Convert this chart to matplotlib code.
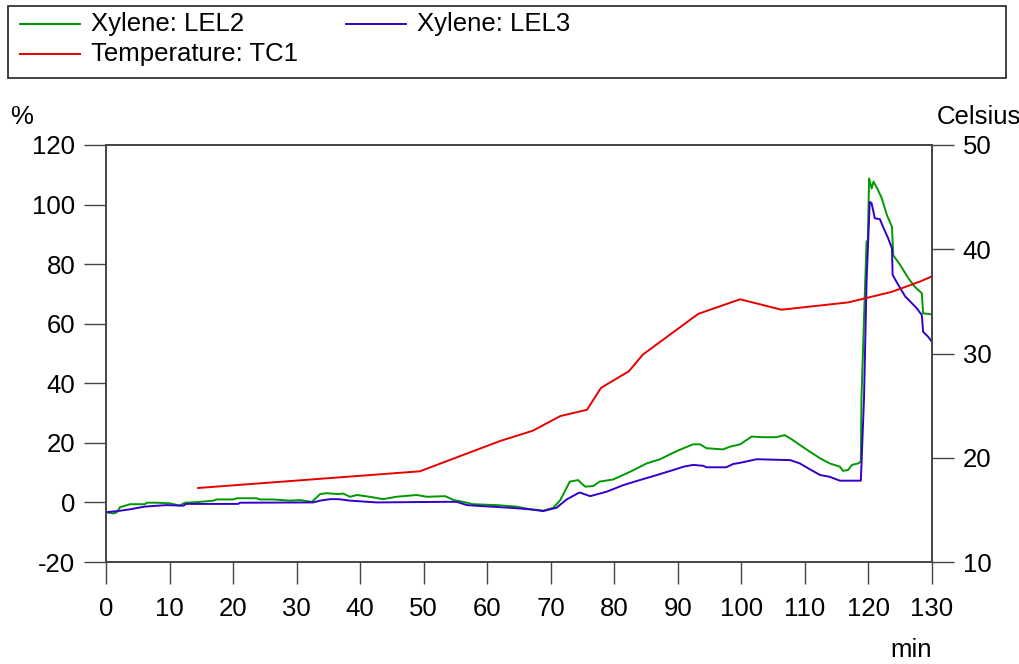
import numpy as np
import matplotlib.pyplot as plt
from matplotlib.lines import Line2D
from matplotlib.patches import Rectangle

plt.rcParams['font.family'] = ['Liberation Sans', 'DejaVu Sans']
plt.rcParams['axes.unicode_minus'] = False

# Xylene LEL2 (%), time in min
lel2_t = [0, 1.2, 1.7, 2.2, 3.8, 6.1, 6.4, 8.0, 10.1, 11.6, 12.4, 14.3, 16.9, 17.4,
          20.0, 20.6, 23.7, 24.2, 26.3, 29.0, 30.5, 32.4, 33.7, 34.7, 36.6, 37.3,
          38.4, 39.5, 41.5, 43.6, 45.7, 48.9, 50.5, 53.4, 54.7, 56.2, 57.8, 61.5,
          64.6, 66.7, 68.3, 68.8, 70.4, 71.5, 73.0, 74.3, 75.4, 76.7, 77.7, 79.8,
          82.5, 85.1, 87.2, 89.3, 90.9, 92.4, 93.5, 94.5, 97.1, 98.2, 99.8, 101.6,
          103.4, 105.5, 106.8, 107.7, 109.2, 110.8, 112.4, 113.9, 115.5, 116.0,
          116.8, 117.4, 118.4, 118.8, 118.9, 119.4, 119.7, 119.9, 120.1, 120.5,
          120.8, 121.5, 122.1, 122.9, 123.7, 123.9, 125.0, 126.3, 127.3, 128.4,
          128.6, 130.0]
lel2_v = [-3.3, -3.7, -3.3, -1.6, -0.6, -0.6, -0.1, -0.1, -0.3, -1.1, -0.1, 0.1, 0.6, 1.0,
          1.0, 1.4, 1.4, 1.0, 1.0, 0.6, 0.8, 0.2, 2.8, 3.1, 2.8, 3.0,
          1.9, 2.5, 1.9, 1.1, 1.9, 2.5, 1.9, 2.1, 0.8, 0.2, -0.6, -0.9,
          -1.4, -2.3, -2.6, -2.8, -1.8, 0.8, 7.0, 7.5, 5.3, 5.5, 7.0, 7.7,
          10.3, 13.1, 14.5, 16.7, 18.2, 19.5, 19.5, 18.2, 17.8, 18.7, 19.5, 22.1,
          21.9, 21.9, 22.6, 21.5, 19.3, 17.0, 14.8, 13.1, 12.0, 10.6,
          10.9, 12.6, 13.1, 13.7, 34.9, 68.5, 87.5, 88.1, 108.8, 105.4,
          107.7, 104.9, 102.1, 96.5, 92.5, 83.0, 79.7, 75.2, 72.4, 70.2,
          63.5, 63.1]

# Xylene LEL3 (%)
lel3_t = [0, 2.2, 3.8, 6.1, 9.5, 12.2, 12.6, 20.8, 21.1, 32.6, 33.7, 35.3, 36.6, 38.4,
          42.6, 53.1, 55.2, 56.8, 58.9, 63.6, 66.7, 68.8, 70.9, 72.5, 74.3, 74.6,
          76.2, 78.8, 81.4, 84.0, 86.7, 89.3, 90.9, 92.4, 94.0, 94.5, 97.6, 98.7,
          99.8, 102.4, 107.7, 109.2, 110.8, 112.4, 113.9, 115.5, 118.8, 119.3,
          119.7, 120.2, 120.5, 121.0, 121.8, 122.3, 123.1, 123.7, 123.8, 124.7,
          125.8, 126.6, 127.6, 128.4, 128.6, 129.4, 130.0]
lel3_v = [-3.3, -2.8, -2.3, -1.4, -0.9, -1.1, -0.5, -0.5, -0.1, 0.0, 0.6, 1.1, 1.1, 0.6,
          0.0, 0.2, 0.2, -0.9, -1.2, -1.8, -2.3, -2.9, -1.8, 1.0, 3.1, 3.3,
          2.1, 3.6, 5.8, 7.5, 9.2, 10.9, 12.0, 12.6, 12.3, 11.8, 11.8, 12.9,
          13.3, 14.5, 14.2, 13.1, 11.1, 9.2, 8.6, 7.3, 7.3, 34.9,
          74.1, 100.9, 100.4, 95.4, 95.1, 92.5, 88.7, 85.3, 76.4, 73.0,
          69.1, 67.4, 65.2, 62.9, 57.3, 55.6, 53.9]

# Temperature TC1 (Celsius)
tc1_t = [14.5, 49.4, 62.0, 67.2, 71.5, 75.7, 77.9, 82.3, 84.5, 93.2, 99.8, 106.3,
         116.8, 123.6, 128.1, 130.0]
tc1_v = [17.1, 18.7, 21.6, 22.6, 24.0, 24.6, 26.7, 28.3, 29.9, 33.8, 35.2, 34.2,
         34.9, 35.9, 36.9, 37.4]

green = '#009900'
blue = '#3300CC'
red = '#E60000'
axcol = '#444444'
fs = 18.5

fig = plt.figure(figsize=(10.2, 6.64), dpi=100)
ax = fig.add_axes([106/1020, 102/664, 826/1020, 417/664])
ax2 = ax.twinx()

ax.plot(lel2_t, lel2_v, color=green, lw=1.4)
ax.plot(lel3_t, lel3_v, color=blue, lw=1.4)
ax2.plot(tc1_t, tc1_v, color=red, lw=1.4)

ax.set_xlim(0, 130)
ax.set_ylim(-20, 120)
ax2.set_ylim(10, 50)
ax.set_xticks(np.arange(0, 131, 10))
ax.set_yticks(np.arange(-20, 121, 20))
ax2.set_yticks(np.arange(10, 51, 10))

for a in (ax, ax2):
    for s in a.spines.values():
        s.set_color(axcol)
        s.set_linewidth(1.2)
ax.tick_params(axis='both', direction='out', length=16, width=1, color=axcol,
               labelsize=fs, pad=6)
ax.tick_params(axis='x', pad=9)
ax2.tick_params(axis='y', direction='out', length=16, width=1, color=axcol,
                labelsize=fs, pad=6)

fig.text(10/1020, 1 - 117/664, '%', fontsize=fs, va='center', ha='left')
fig.text(937/1020, 1 - 117/664, 'Celsius', fontsize=fs, va='center', ha='left')
fig.text(911/1020, 1 - 650/664, 'min', fontsize=fs, va='center', ha='center')

# legend box drawn by hand so it can span the full width
fig.add_artist(Rectangle((8/1020, 1 - 78/664), 998/1020, 72/664, transform=fig.transFigure,
                         fill=False, edgecolor='#222222', lw=1.2))
entries = [('Xylene: LEL2', green, 20, 91, 24),
           ('Xylene: LEL3', blue, 346, 417, 24),
           ('Temperature: TC1', red, 20, 91, 54)]
for label, col, lx, tx, ly in entries:
    yy = 1 - ly/664
    fig.add_artist(Line2D([lx/1020, (lx + 60)/1020], [yy, yy], transform=fig.transFigure,
                          color=col, lw=1.4))
    fig.text(tx/1020, yy, label, fontsize=fs, va='center', ha='left')

plt.savefig('out.png', dpi=100)
